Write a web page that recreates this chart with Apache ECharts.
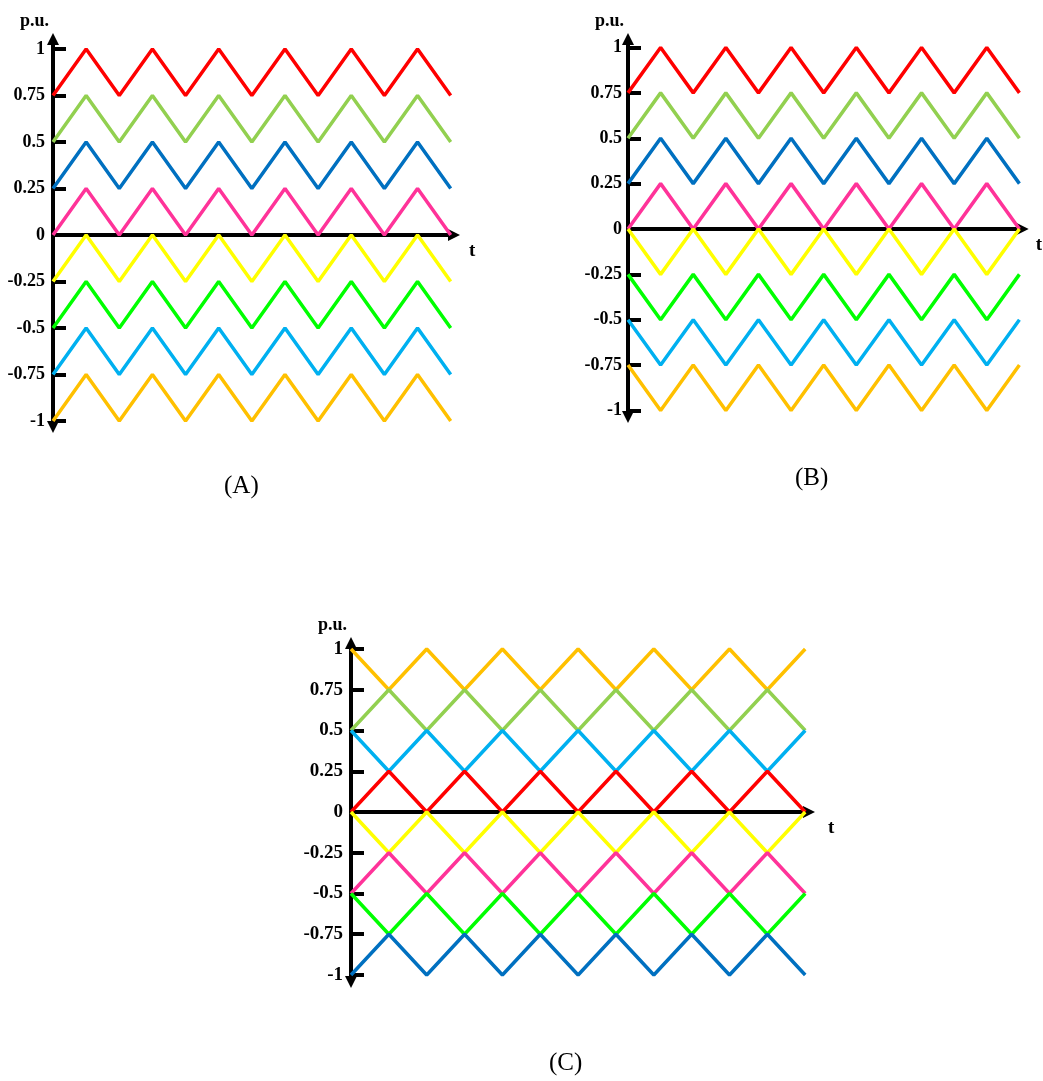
<!DOCTYPE html>
<html>
<head>
<meta charset="UTF-8">
<title>Carrier dispositions</title>
<script src="https://cdn.jsdelivr.net/npm/echarts@6/dist/echarts.min.js"></script>
</head>
<body style="margin:0;background:#fff">
<div id="main" style="width:1043px;height:1081px;"></div>
<script>
// sample points, one per half period of the carriers
var t = [0, 1, 2, 3, 4, 5, 6, 7, 8, 9, 10, 11, 12];
var yLabels = [-1, -0.75, -0.5, -0.25, 0, 0.25, 0.5, 0.75, 1];
var yTickMarks = [-1, -0.75, -0.5, -0.25, 0.25, 0.5, 0.75, 1];

// carriers that rise first
var up075 = [0.75, 1, 0.75, 1, 0.75, 1, 0.75, 1, 0.75, 1, 0.75, 1, 0.75];
var up05 = [0.5, 0.75, 0.5, 0.75, 0.5, 0.75, 0.5, 0.75, 0.5, 0.75, 0.5, 0.75, 0.5];
var up025 = [0.25, 0.5, 0.25, 0.5, 0.25, 0.5, 0.25, 0.5, 0.25, 0.5, 0.25, 0.5, 0.25];
var up0 = [0, 0.25, 0, 0.25, 0, 0.25, 0, 0.25, 0, 0.25, 0, 0.25, 0];
var upM025 = [-0.25, 0, -0.25, 0, -0.25, 0, -0.25, 0, -0.25, 0, -0.25, 0, -0.25];
var upM05 = [-0.5, -0.25, -0.5, -0.25, -0.5, -0.25, -0.5, -0.25, -0.5, -0.25, -0.5, -0.25, -0.5];
var upM075 = [-0.75, -0.5, -0.75, -0.5, -0.75, -0.5, -0.75, -0.5, -0.75, -0.5, -0.75, -0.5, -0.75];
var upM1 = [-1, -0.75, -1, -0.75, -1, -0.75, -1, -0.75, -1, -0.75, -1, -0.75, -1];
// carriers that fall first
var dn1 = [1, 0.75, 1, 0.75, 1, 0.75, 1, 0.75, 1, 0.75, 1, 0.75, 1];
var dn05 = [0.5, 0.25, 0.5, 0.25, 0.5, 0.25, 0.5, 0.25, 0.5, 0.25, 0.5, 0.25, 0.5];
var dn0 = [0, -0.25, 0, -0.25, 0, -0.25, 0, -0.25, 0, -0.25, 0, -0.25, 0];
var dnM025 = [-0.25, -0.5, -0.25, -0.5, -0.25, -0.5, -0.25, -0.5, -0.25, -0.5, -0.25, -0.5, -0.25];
var dnM05 = [-0.5, -0.75, -0.5, -0.75, -0.5, -0.75, -0.5, -0.75, -0.5, -0.75, -0.5, -0.75, -0.5];
var dnM075 = [-0.75, -1, -0.75, -1, -0.75, -1, -0.75, -1, -0.75, -1, -0.75, -1, -0.75];

var colors = {
    red: '#ff0000', lime: '#92d050', blue: '#0070c0', pink: '#ff3399',
    yellow: '#ffff00', green: '#00ff00', sky: '#00b0f0', orange: '#ffc000'
};

var carriersA = [['red', up075], ['lime', up05], ['blue', up025], ['pink', up0],
                 ['yellow', upM025], ['green', upM05], ['sky', upM075], ['orange', upM1]];
var carriersB = [['red', up075], ['lime', up05], ['blue', up025], ['pink', up0],
                 ['yellow', dn0], ['green', dnM025], ['sky', dnM05], ['orange', dnM075]];
var carriersC = [['orange', dn1], ['lime', up05], ['sky', dn05], ['red', up0],
                 ['yellow', dn0], ['pink', upM05], ['green', dnM05], ['blue', upM1]];

/* panel layout */
var panels = [
    {name: '(A)', carriers: carriersA, left: 53, top: 39, width: 401, height: 388, yMin: -1.032, yMax: 1.054,
     font: 18, margin: 8, tGap: 15, titleLeft: 224, titleTop: 474},
    {name: '(B)', carriers: carriersB, left: 628, top: 39, width: 395, height: 378, yMin: -1.036, yMax: 1.047,
     font: 18, margin: 6, tGap: 13, titleLeft: 795, titleTop: 466},
    {name: '(C)', carriers: carriersC, left: 351, top: 643, width: 458, height: 339, yMin: -1.043, yMax: 1.037,
     font: 19, margin: 8, tGap: 19, titleLeft: 549, titleTop: 1051}
];

var serif = '"Liberation Serif", "Times New Roman", serif';
var option = {grid: [], xAxis: [], yAxis: [], series: [], title: [], animation: false};

panels.forEach(function (p, k) {
    option.grid.push({left: p.left, top: p.top, width: p.width, height: p.height});
    option.title.push({
        text: p.name, left: p.titleLeft, top: p.titleTop, padding: 0,
        textStyle: {fontFamily: serif, fontSize: 25, fontWeight: 'normal', color: '#000'}
    });
    option.xAxis.push({
        type: 'value', gridIndex: k, min: 0, max: 12.1,
        name: 't', nameLocation: 'end', nameGap: p.tGap,
        nameTextStyle: {fontFamily: serif, fontSize: 19, fontWeight: 'bold', color: '#000',
                        verticalAlign: 'top', padding: [7, 0, 0, 0]},
        axisLine: {onZero: true, lineStyle: {color: '#000', width: 4},
                   symbol: ['none', 'triangle'], symbolSize: [12, 12]},
        axisTick: {show: false}, axisLabel: {show: false}, splitLine: {show: false}
    });
    option.yAxis.push({
        type: 'value', gridIndex: k, min: p.yMin, max: p.yMax,
        name: 'p.u.', nameLocation: 'end', nameGap: 9,
        nameTextStyle: {fontFamily: serif, fontSize: 18, fontWeight: 'bold', color: '#000',
                        align: 'right', verticalAlign: 'bottom', padding: [0, 4, 0, 0]},
        axisLine: {show: true, lineStyle: {color: '#000', width: 4},
                   symbol: ['triangle', 'triangle'], symbolSize: [12, 12]},
        axisTick: {show: true, inside: true, length: 13, customValues: yTickMarks,
                   lineStyle: {color: '#000', width: 4}},
        axisLabel: {customValues: yLabels, margin: p.margin, color: '#000',
                    fontFamily: serif, fontSize: p.font, fontWeight: 'bold'},
        splitLine: {show: false}
    });
    p.carriers.forEach(function (c) {
        option.series.push({
            type: 'line', xAxisIndex: k, yAxisIndex: k, showSymbol: false, silent: true,
            lineStyle: {color: colors[c[0]], width: 3.5}, itemStyle: {color: colors[c[0]]},
            data: t.map(function (x, i) { return [x, c[1][i]]; })
        });
    });
});

var chart = echarts.init(document.getElementById('main'));
chart.setOption(option);
</script>
</body>
</html>
